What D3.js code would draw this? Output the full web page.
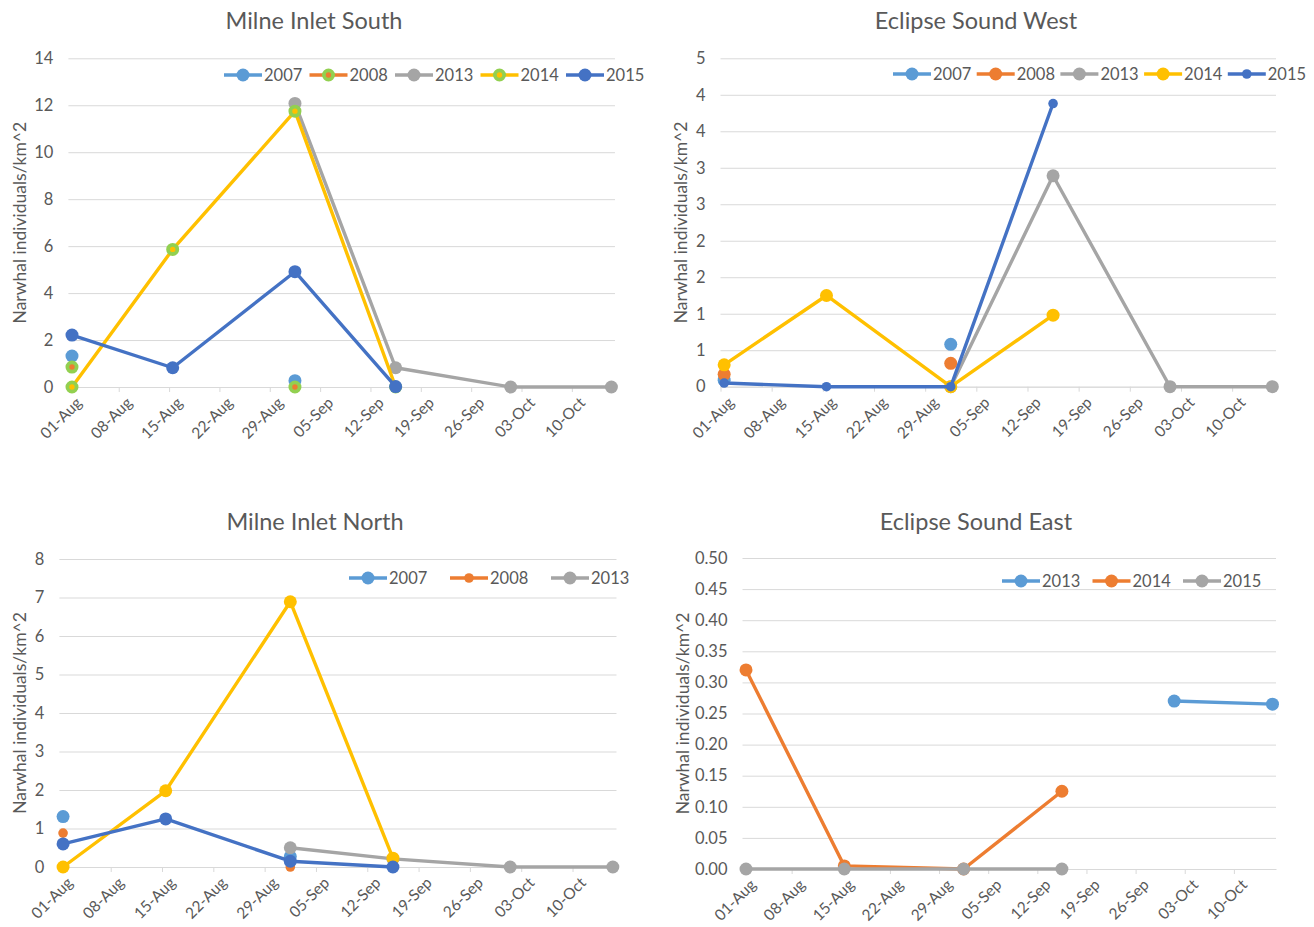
<!DOCTYPE html>
<html><head><meta charset="utf-8">
<script src="https://cdn.jsdelivr.net/npm/d3@7"></script>
<style>
body{margin:0;background:#fff}
svg{display:block}
text{font-family:Lato,"Liberation Sans",sans-serif;fill:#595959}
</style>
</head><body>
<svg id="c" width="1314" height="927"></svg>
<script>
// ---------- data ----------
const surveyDates = ["01-Aug","15-Aug","01-Sep","15-Sep","01-Oct","15-Oct"];
const xTickLabels = ["01-Aug","08-Aug","15-Aug","22-Aug","29-Aug","05-Sep","12-Sep","19-Sep","26-Sep","03-Oct","10-Oct"];

// Milne Inlet South
const misYears = ["2007","2008","2013","2014","2015"];
const mis2007 = [1.32, null, 0.27, null, null, null];
const mis2008 = [0.85, null, 0, null, null, null];
const mis2013 = [null, null, 12.08, 0.82, 0, 0];
const mis2014 = [0, 5.86, 11.75, 0, null, null];
const mis2015 = [2.21, 0.82, 4.91, 0.02, null, null];
const misYTicks = [0,2,4,6,8,10,12,14];
const misYLabels = ["0","2","4","6","8","10","12","14"];

// Eclipse Sound West
const eswYears = ["2007","2008","2013","2014","2015"];
const esw2007 = [0.09, null, 0.58, null, null, null];
const esw2008 = [0.17, null, 0.32, null, null, null];
const esw2013 = [null, null, 0, 2.89, 0, 0];
const esw2014 = [0.30, 1.25, 0, 0.98, null, null];
const esw2015 = [0.05, 0, 0, 3.88, null, null];
const eswYTicks = [0,0.5,1,1.5,2,2.5,3,3.5,4,4.5];
const eswYLabels = ["0","1","1","2","2","3","3","4","4","5"];

// Milne Inlet North
const minYears = ["2007","2008","2013","2014","2015"];
const min2007 = [1.31, null, 0.27, null, null, null];
const min2008 = [0.88, null, 0, null, null, null];
const min2013 = [null, null, 0.5, 0.21, 0, 0];
const min2014 = [0, 1.98, 6.89, 0.23, null, null];
const min2015 = [0.6, 1.25, 0.15, 0, null, null];
const minLegendYears = ["2007","2008","2013"];
const minYTicks = [0,1,2,3,4,5,6,7,8];
const minYLabels = ["0","1","2","3","4","5","6","7","8"];

// Eclipse Sound East
const eseYears = ["2013","2014","2015"];
const ese2013 = [null, null, null, null, 0.27, 0.265];
const ese2014 = [0.32, 0.005, 0, 0.125, null, null];
const ese2015 = [0, 0, 0, 0, null, null];
const eseYTicks = [0,0.05,0.1,0.15,0.2,0.25,0.3,0.35,0.4,0.45,0.5];
const eseYLabels = ["0.00","0.05","0.10","0.15","0.20","0.25","0.30","0.35","0.40","0.45","0.50"];

const yAxisTitle = "Narwhal individuals/km^2";

// ---------- styles ----------
const C = {lb:"#5B9BD5", or:"#ED7D31", gr:"#A5A5A5", ye:"#FFC000", bl:"#4472C4", gn:"#92D050"};
const parse = d3.timeParse("%d-%b-%Y %H");
const pDate = s => parse(s + "-2015 12");
const tDate = s => parse(s + "-2015 00");
const axisStart = tDate("01-Aug"), axisEnd = tDate("16-Oct");

const panels = [
  {title:"Milne Inlet South", tx:314, ty:21, left:68.4, right:615, top:58.3, bottom:387,
   yTicks:misYTicks, yLabels:misYLabels, ytx:20,
   series:[
     {name:misYears[0], v:mis2007, color:C.lb, fill:C.lb, r:6.5},
     {name:misYears[1], v:mis2008, color:C.or, fill:C.or, stroke:C.gn, r:4.6},
     {name:misYears[2], v:mis2013, color:C.gr, fill:C.gr, r:6.5},
     {name:misYears[3], v:mis2014, color:C.ye, fill:C.ye, stroke:C.gn, r:4.6},
     {name:misYears[4], v:mis2015, color:C.bl, fill:C.bl, r:6.5}],
   legend:{x:224, y:75, step:85.5, names:misYears}},
  {title:"Eclipse Sound West", tx:976, ty:21, left:720.5, right:1276, top:58.3, bottom:386.7,
   yTicks:eswYTicks, yLabels:eswYLabels, ytx:681,
   series:[
     {name:eswYears[0], v:esw2007, color:C.lb, fill:C.lb, r:6.5},
     {name:eswYears[1], v:esw2008, color:C.or, fill:C.or, r:6.5},
     {name:eswYears[2], v:esw2013, color:C.gr, fill:C.gr, r:6.5},
     {name:eswYears[3], v:esw2014, color:C.ye, fill:C.ye, r:6.5},
     {name:eswYears[4], v:esw2015, color:C.bl, fill:C.bl, r:4.8}],
   legend:{x:893, y:74, step:83.7, names:eswYears}},
  {title:"Milne Inlet North", tx:315, ty:522, left:59.4, right:616.5, top:559, bottom:867,
   yTicks:minYTicks, yLabels:minYLabels, ytx:20,
   series:[
     {name:minYears[0], v:min2007, color:C.lb, fill:C.lb, r:6.5},
     {name:minYears[1], v:min2008, color:C.or, fill:C.or, r:4.8},
     {name:minYears[2], v:min2013, color:C.gr, fill:C.gr, r:6.5},
     {name:minYears[3], v:min2014, color:C.ye, fill:C.ye, r:6.5},
     {name:minYears[4], v:min2015, color:C.bl, fill:C.bl, r:6.5}],
   legend:{x:349, y:578, step:101, names:minLegendYears}},
  {title:"Eclipse Sound East", tx:976, ty:522, left:742.5, right:1276, top:558, bottom:869,
   yTicks:eseYTicks, yLabels:eseYLabels, ytx:683,
   series:[
     {name:eseYears[0], v:ese2013, color:C.lb, fill:C.lb, r:6.5},
     {name:eseYears[1], v:ese2014, color:C.or, fill:C.or, r:6.5},
     {name:eseYears[2], v:ese2015, color:C.gr, fill:C.gr, r:6.5}],
   legend:{x:1002, y:581, step:90.5, names:eseYears}}
];

const svg = d3.select("#c");

panels.forEach(p => {
  const g = svg.append("g");
  const x = d3.scaleTime().domain([axisStart, axisEnd]).range([p.left, p.right]);
  const yMax = p.yTicks[p.yTicks.length-1];
  const y = d3.scaleLinear().domain([0, yMax]).range([p.bottom, p.top]);

  // title
  g.append("text").attr("x", p.tx).attr("y", p.ty).attr("dy","0.35em")
    .attr("text-anchor","middle").style("font-size","23.5px").text(p.title);

  // y grid + labels
  const ya = g.append("g").attr("transform",`translate(${p.left},0)`)
    .call(d3.axisLeft(y).tickValues(p.yTicks).tickSize(-(p.right-p.left)).tickPadding(15)
      .tickFormat((d,i)=>p.yLabels[i]));
  ya.select(".domain").remove();
  ya.selectAll(".tick line").attr("stroke","#D9D9D9").attr("stroke-width",1);
  ya.selectAll(".tick text").style("font-size","16.5px").attr("fill","#595959");

  // x axis
  const tickDates = xTickLabels.map(tDate);
  const xa = g.append("g").attr("transform",`translate(0,${p.bottom})`)
    .call(d3.axisBottom(x).tickValues(tickDates).tickSize(5).tickSizeOuter(0)
      .tickFormat((d,i)=>xTickLabels[i]));
  xa.select(".domain").attr("stroke","#D9D9D9");
  xa.selectAll(".tick line").attr("stroke","#D9D9D9");
  xa.selectAll(".tick text").style("font-size","15.5px").attr("fill","#595959")
    .attr("text-anchor","end").attr("y",0).attr("dy","0.35em")
    .attr("transform","translate(10,13) rotate(-45)");

  // y title
  g.append("text").attr("transform",`translate(${p.ytx},${(p.top+p.bottom)/2}) rotate(-90)`)
    .attr("text-anchor","middle").attr("dy","0.35em").style("font-size","17.5px").text(yAxisTitle);

  // series
  const line = d3.line().defined(d => d.v != null).x(d => x(d.d)).y(d => y(d.v));
  p.series.forEach(s => {
    const pts = s.v.map((v,i) => ({d:pDate(surveyDates[i]), v}));
    g.append("path").datum(pts).attr("d", line).attr("fill","none")
      .attr("stroke", s.color).attr("stroke-width",3.4).attr("stroke-linejoin","round");
    g.selectAll(null).data(pts.filter(d=>d.v!=null)).enter().append("circle")
      .attr("cx", d=>x(d.d)).attr("cy", d=>y(d.v)).attr("r", s.r)
      .attr("fill", s.fill)
      .attr("stroke", s.stroke || "none").attr("stroke-width", s.stroke ? 3.8 : 0);
  });

  // legend
  p.legend.names.forEach((n,i) => {
    const s = p.series.find(t => t.name === n);
    const lx = p.legend.x + i*p.legend.step, ly = p.legend.y;
    g.append("line").attr("x1",lx).attr("x2",lx+38).attr("y1",ly).attr("y2",ly)
      .attr("stroke", s.color).attr("stroke-width",3.4);
    g.append("circle").attr("cx",lx+19).attr("cy",ly).attr("r",s.r)
      .attr("fill",s.fill).attr("stroke",s.stroke||"none").attr("stroke-width", s.stroke?3.8:0);
    g.append("text").attr("x",lx+40).attr("y",ly).attr("dy","0.35em")
      .style("font-size","16.5px").text(n);
  });
});
</script>
</body></html>
